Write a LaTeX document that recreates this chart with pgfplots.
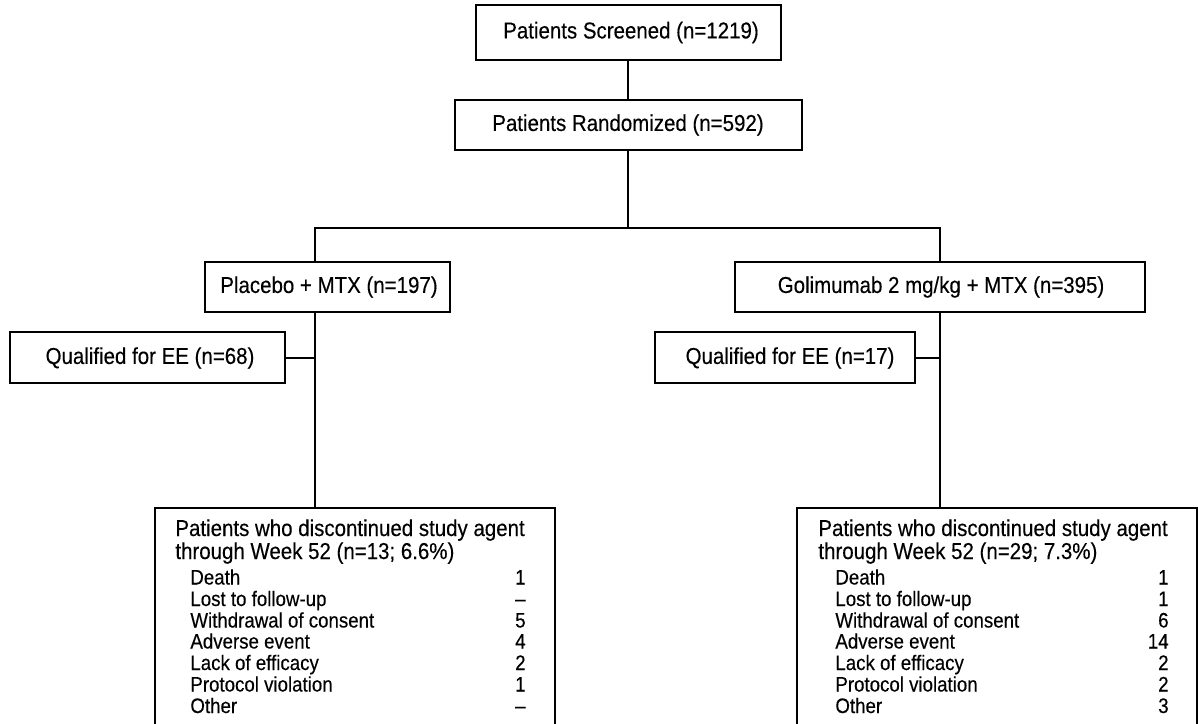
\documentclass[border=0pt]{standalone}
\usepackage{fontspec}
\setmainfont{Liberation Sans}[FakeStretch=0.89, FakeBold=0.3]
\usepackage{pgfplots}
\pgfplotsset{compat=1.18}
\begin{document}
\fontsize{11.5}{13}\selectfont
\begin{tikzpicture}[t/.style={font=\fontsize{11.5}{13}\selectfont, inner sep=0pt},
  s/.style={font=\fontsize{10.5}{12}\selectfont, inner sep=0pt}]
\begin{axis}[x=0.5pt, y=0.5pt, y dir=reverse,
  xmin=0, xmax=1198, ymin=0, ymax=723,
  hide axis, clip=true,
  box/.style={black, line width=1.25pt, mark=none, line cap=rect},
  conn/.style={black, line width=1.15pt, mark=none}]
% boxes
\addplot[box] coordinates {(476,5) (781,5) (781,60) (476,60) (476,5)};
\addplot[box] coordinates {(455,100) (802,100) (802,150) (455,150) (455,100)};
\addplot[box] coordinates {(205,262) (450,262) (450,312) (205,312) (205,262)};
\addplot[box] coordinates {(735,262) (1145,262) (1145,312) (735,312) (735,262)};
\addplot[box] coordinates {(10,332) (285,332) (285,383) (10,383) (10,332)};
\addplot[box] coordinates {(655,332) (915,332) (915,383) (655,383) (655,332)};
\addplot[box] coordinates {(155,740) (155,508) (555,508) (555,740)};
\addplot[box] coordinates {(797,740) (797,508) (1197,508) (1197,740)};
% connectors
\addplot[conn] coordinates {(628,60) (628,100)};
\addplot[conn] coordinates {(628,150) (628,228)};
\addplot[conn] coordinates {(315,262) (315,228) (940,228) (940,262)};
\addplot[conn] coordinates {(315,312) (315,508)};
\addplot[conn] coordinates {(940,312) (940,508)};
\addplot[conn] coordinates {(285,358) (315,358)};
\addplot[conn] coordinates {(915,358) (940,358)};
% box texts
\node[t] at (axis cs:631,32.5) {Patients Screened (n=1219)};
\node[t] at (axis cs:628,125) {Patients Randomized (n=592)};
\node[t] at (axis cs:329,287) {Placebo + MTX (n=197)};
\node[t] at (axis cs:941,287) {Golimumab 2 mg/kg + MTX (n=395)};
\node[t] at (axis cs:150,358) {Qualified for EE (n=68)};
\node[t] at (axis cs:790,358) {Qualified for EE (n=17)};
% left discontinuation box
\node[t, anchor=base west] at (axis cs:175,536) {Patients who discontinued study agent};
\node[t, anchor=base west] at (axis cs:175,559) {through Week 52 (n=13; 6.6\%)};
\node[s, anchor=base west] at (axis cs:190,584.5) {Death};
\node[s, anchor=base west] at (axis cs:190,606) {Lost to follow-up};
\node[s, anchor=base west] at (axis cs:190,627.5) {Withdrawal of consent};
\node[s, anchor=base west] at (axis cs:190,648.5) {Adverse event};
\node[s, anchor=base west] at (axis cs:190,670) {Lack of efficacy};
\node[s, anchor=base west] at (axis cs:190,691.5) {Protocol violation};
\node[s, anchor=base west] at (axis cs:190,713) {Other};
\node[s, anchor=base east] at (axis cs:526,584.5) {1};
\node[s, anchor=base east] at (axis cs:526,606) {–};
\node[s, anchor=base east] at (axis cs:526,627.5) {5};
\node[s, anchor=base east] at (axis cs:526,648.5) {4};
\node[s, anchor=base east] at (axis cs:526,670) {2};
\node[s, anchor=base east] at (axis cs:526,691.5) {1};
\node[s, anchor=base east] at (axis cs:526,713) {–};
% right discontinuation box
\node[t, anchor=base west] at (axis cs:818,536) {Patients who discontinued study agent};
\node[t, anchor=base west] at (axis cs:818,559) {through Week 52 (n=29; 7.3\%)};
\node[s, anchor=base west] at (axis cs:835,584.5) {Death};
\node[s, anchor=base west] at (axis cs:835,606) {Lost to follow-up};
\node[s, anchor=base west] at (axis cs:835,627.5) {Withdrawal of consent};
\node[s, anchor=base west] at (axis cs:835,648.5) {Adverse event};
\node[s, anchor=base west] at (axis cs:835,670) {Lack of efficacy};
\node[s, anchor=base west] at (axis cs:835,691.5) {Protocol violation};
\node[s, anchor=base west] at (axis cs:835,713) {Other};
\node[s, anchor=base east] at (axis cs:1169,584.5) {1};
\node[s, anchor=base east] at (axis cs:1169,606) {1};
\node[s, anchor=base east] at (axis cs:1169,627.5) {6};
\node[s, anchor=base east] at (axis cs:1169,648.5) {14};
\node[s, anchor=base east] at (axis cs:1169,670) {2};
\node[s, anchor=base east] at (axis cs:1169,691.5) {2};
\node[s, anchor=base east] at (axis cs:1169,713) {3};
\end{axis}
\pgfresetboundingbox
\path (0,0) rectangle (599pt,361.5pt);
\end{tikzpicture}
\end{document}
